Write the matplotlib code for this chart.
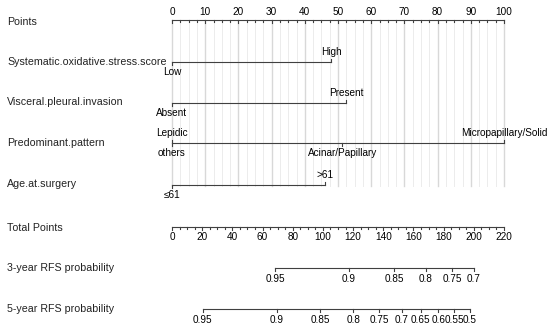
import numpy as np
import matplotlib
matplotlib.use('Agg')
import matplotlib.pyplot as plt

plt.rcParams['font.family'] = ['Liberation Sans', 'DejaVu Sans']

''' Data (read off the nomogram) '''
points_ticks = np.arange(0, 101, 10)

sos_levels = ['Low', 'High']
sos_points = [0, 48]

vpi_levels = ['Absent', 'Present']
vpi_points = [0, 52.5]

pattern_levels = ['Lepidic', 'others', 'Acinar/Papillary', 'Micropapillary/Solid']
pattern_points = [0, 0, 51.3, 100]
pattern_above = [True, False, False, True]

age_levels = ['\u226461', '>61']
age_points = [0, 46]

total_ticks = np.arange(0, 221, 20)
total_max = 220

rfs3_probs = [0.95, 0.9, 0.85, 0.8, 0.75, 0.7]
rfs3_total = [68.3, 117.3, 147.1, 168.3, 185.6, 200.1]

rfs5_probs = [0.95, 0.9, 0.85, 0.8, 0.75, 0.7, 0.65, 0.6, 0.55, 0.5]
rfs5_total = [20.3, 69.4, 98.3, 120.2, 137.4, 152.2, 164.8, 176.5, 187.1, 197.5]

''' Layout '''
row_y = {'Points': 20, 'sos': 62, 'vpi': 103, 'pattern': 143, 'age': 185,
         'total': 227, 'rfs3': 268, 'rfs5': 309}
line_col = '#404040'
lw = 0.8
fs_row = 7.7
fs_tick = 7.2


def tp_to_points(tp):
    return np.asarray(tp) * 100.0 / total_max


fig = plt.figure(figsize=(5.5, 3.33), dpi=100)
ax = fig.add_axes([0, 0, 1, 1])
ax.set_xlim(-172 / 3.32, (550 - 172) / 3.32)
ax.set_ylim(333, 0)
ax.axis('off')

# vertical grid
for g in np.arange(0, 100.1, 2.5):
    major = (g % 10 == 0)
    ax.plot([g, g], [row_y['Points'], row_y['age'] + 1],
            color='#d8d8d8' if major else '#ececec',
            lw=1.0 if major else 0.7, zorder=0)

# row titles
titles = [('Points', 'Points', 22), ('Systematic.oxidative.stress.score', 'sos', 62),
          ('Visceral.pleural.invasion', 'vpi', 102), ('Predominant.pattern', 'pattern', 143),
          ('Age.at.surgery', 'age', 184), ('Total Points', 'total', 228),
          ('3-year RFS probability', 'rfs3', 268), ('5-year RFS probability', 'rfs5', 309)]
for txt, key, yy in titles:
    ax.text(-165 / 3.32, yy, txt, fontsize=fs_row, va='center', ha='left', color='#222222')

# Points axis: labels above, ticks down
y = row_y['Points']
ax.plot([0, 100], [y, y], color=line_col, lw=lw)
for t in np.arange(0, 100.1, 2.5):
    ax.plot([t, t], [y, y + (3 if t % 10 == 0 else 2)], color=line_col, lw=lw)
for t in points_ticks:
    ax.text(t, y - 8, str(t), fontsize=fs_tick, ha='center', va='center')


def variable_row(key, levels, pts, above):
    y = row_y[key]
    ax.plot([min(pts), max(pts)], [y, y], color=line_col, lw=lw)
    for lab, p, up in zip(levels, pts, above):
        d = -3 if up else 3
        ax.plot([p, p], [y, y + d], color=line_col, lw=lw)
        ax.text(p, y + (-10 if up else 10), lab, fontsize=fs_tick,
                ha='center', va='center')


variable_row('sos', sos_levels, sos_points, [False, True])
variable_row('vpi', vpi_levels, vpi_points, [False, True])
variable_row('pattern', pattern_levels, pattern_points, pattern_above)
variable_row('age', age_levels, age_points, [False, True])

# Total points axis: labels below, ticks down
y = row_y['total']
ax.plot(tp_to_points([0, total_max]), [y, y], color=line_col, lw=lw)
for t in np.arange(0, total_max + 0.1, 5):
    x = tp_to_points(t)
    ax.plot([x, x], [y, y + (3 if t % 20 == 0 else 2)], color=line_col, lw=lw)
for t in total_ticks:
    ax.text(tp_to_points(t), y + 10, str(t), fontsize=fs_tick, ha='center', va='center')


def prob_row(key, probs, totals):
    y = row_y[key]
    xs = tp_to_points(totals)
    ax.plot([xs.min(), xs.max()], [y, y], color=line_col, lw=lw)
    for p, x in zip(probs, xs):
        ax.plot([x, x], [y, y + 3], color=line_col, lw=lw)
        ax.text(x, y + 11, f'{p:g}', fontsize=fs_tick, ha='center', va='center')


prob_row('rfs3', rfs3_probs, rfs3_total)
prob_row('rfs5', rfs5_probs, rfs5_total)

fig.savefig('out.png', dpi=100)
